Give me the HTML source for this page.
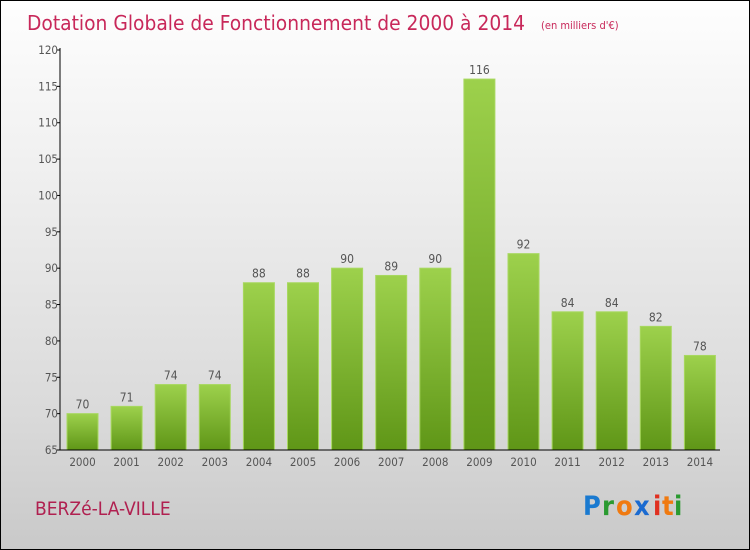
<!DOCTYPE html>
<html><head><meta charset="utf-8"><style>
body{margin:0;width:750px;height:550px;overflow:hidden}
#wrap{position:absolute;left:0;top:0;width:748px;height:548px;border:1px solid #000;background:linear-gradient(#fefefe,#f0f0f0 30%,#dadada 75%,#c9c9c9)}
text{font-family:"DejaVu Sans Condensed","Liberation Sans",sans-serif}
</style></head><body>
<div id="wrap">
<svg id="chart" width="750" height="550" style="position:absolute;left:-1px;top:-1px">
<text x="27" y="30" font-size="20" fill="#c8285a" textLength="498" lengthAdjust="spacingAndGlyphs" style="font-weight:200">Dotation Globale de Fonctionnement de 2000 à 2014</text>
<text x="541" y="29" font-size="11" fill="#c8285a">(en milliers d'€)</text>
<text x="35" y="515" font-size="19" fill="#b02050">BERZé-LA-VILLE</text>
<g font-size="27" font-weight="bold">
<text x="583" y="515" fill="#1a7ad0">P</text><text x="602" y="515" fill="#2a9a30">r</text><text x="616" y="515" fill="#f07a10">o</text><text x="634" y="515" fill="#1a6ad0">x</text><text x="653" y="515" fill="#e03020">i</text><text x="662" y="515" fill="#f07a10">t</text><text x="674" y="515" fill="#2a9a30">i</text>
</g>
<defs><linearGradient id="bg" x1="0" y1="0" x2="0" y2="1"><stop offset="0" stop-color="#9dd14c"/><stop offset="1" stop-color="#5f9617"/></linearGradient></defs>
<g id="bars"></g><g id="axes"></g>
</svg></div>
<script>
const years=["2000","2001","2002","2003","2004","2005","2006","2007","2008","2009","2010","2011","2012","2013","2014"];
const values=[70,71,74,74,88,88,90,89,90,116,92,84,84,82,78];
const yTicks=[65,70,75,80,85,90,95,100,105,110,115,120];
const NS="http://www.w3.org/2000/svg";
const x0=60,x1=720,yTop=50,yBot=450,vmin=65,vmax=120;
const y=v=>yBot-(v-vmin)/(vmax-vmin)*(yBot-yTop);
const step=44.1,bw=31;
const xc=i=>82.5+i*step;
function mk(t,a,p){const e=document.createElementNS(NS,t);for(const k in a)e.setAttribute(k,a[k]);p.appendChild(e);return e;}
const bars=document.getElementById('bars'),axes=document.getElementById('axes');
values.forEach((v,i)=>{
 const r=mk('rect',{x:xc(i)-bw/2,y:y(v),width:bw,height:yBot-y(v),fill:'url(#bg)',stroke:'#a8d860','stroke-width':1},bars);
 
 
 const t=mk('text',{x:xc(i),y:y(v)-5,'font-size':12,fill:'#555','text-anchor':'middle','font-weight':300},bars);t.textContent=v;
 
 
 const l=mk('text',{x:xc(i),y:466,'font-size':11.5,fill:'#555','text-anchor':'middle','font-weight':300},axes);l.textContent=years[i];
 
 
});
const ya=mk('line',{x1:x0,y1:yTop-2,x2:x0,y2:yBot,stroke:'#000'},axes);


const xa=mk('line',{x1:x0,y1:yBot,x2:x1,y2:yBot,stroke:'#000'},axes);


yTicks.forEach(v=>{
 mk('line',{x1:x0-3,y1:y(v),x2:x0,y2:y(v),stroke:'#000'},axes);
 const t=mk('text',{x:x0-2,y:y(v)+4,'font-size':11.5,fill:'#555','text-anchor':'end','font-weight':300},axes);t.textContent=v;
 
 
});
</script>
</body></html>
